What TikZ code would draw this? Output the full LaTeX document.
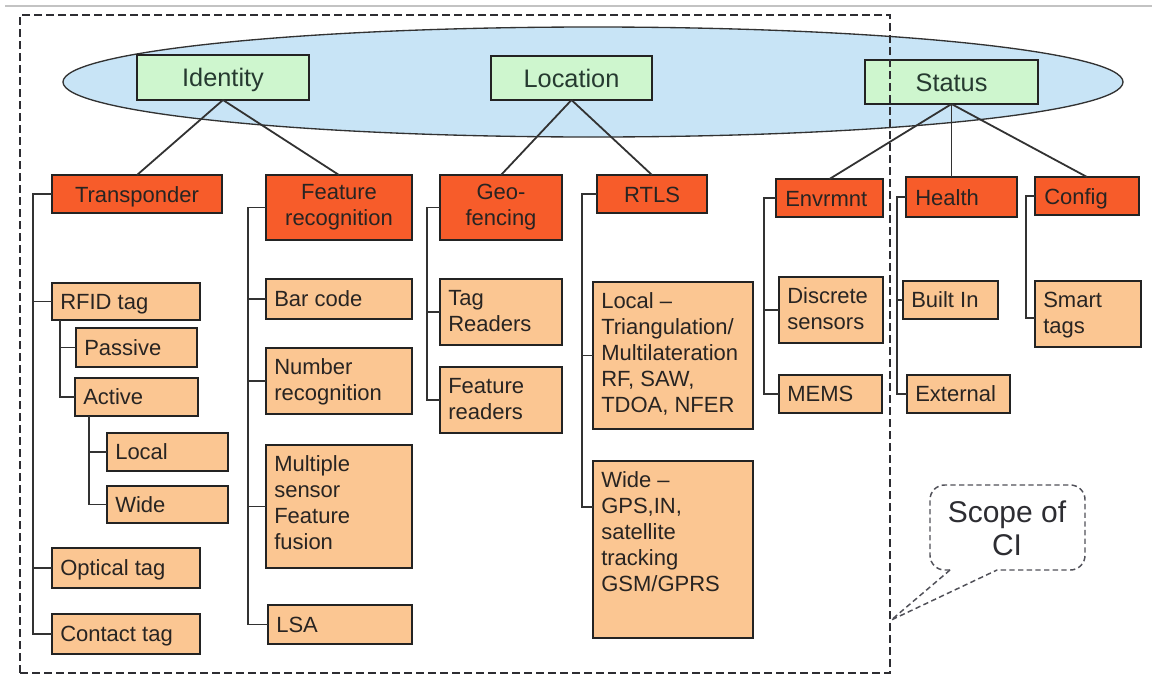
\documentclass[tikz,border=0pt]{standalone}
\usepackage{fontspec}
\setmainfont{Liberation Sans}
\usetikzlibrary{fit}

\definecolor{gfill}{RGB}{206,246,206}
\definecolor{rfill}{RGB}{247,92,42}
\definecolor{ofill}{RGB}{251,198,146}
\definecolor{efill}{RGB}{200,228,246}
\definecolor{boxline}{RGB}{35,35,35}
\definecolor{linkc}{RGB}{50,50,50}
\definecolor{txtc}{RGB}{40,36,34}
\definecolor{gtxtc}{RGB}{38,58,48}
\definecolor{scopec}{RGB}{45,45,50}
\definecolor{notec}{RGB}{80,80,88}

% a box from its top-left and bottom-right corners (pixel units)
\newcommand\mkbox[6]{%
  \path (#3,#4) coordinate (#2-nw) (#5,#6) coordinate (#2-se);
  \node[#1, fit=(#2-nw)(#2-se)] (#2) {};}
% single line, left aligned, vertically centred
\newcommand\txtSL[2]{\node[txt, anchor=base west] (#1-t) at ([shift={(8,7.5)}]#1.west) {#2};}
% several lines, left aligned, from the top
\newcommand\txtML[2]{\node[txt, anchor=north west] (#1-t) at ([shift={(8,7.8)}]#1.north west) {\strut #2};}
% single line, centred
\newcommand\txtC[2]{\node[txt, anchor=base] (#1-t) at ([shift={(0,8)}]#1.center) {#2};}
% several lines, centred, from the top
\newcommand\txtCM[2]{\node[txt, anchor=north, align=center] (#1-t) at ([shift={(0,6)}]#1.north) {\strut #2};}

\begin{document}
\begin{tikzpicture}[x=0.75pt,y=-0.75pt,
  box/.style={draw=boxline, line width=1.5pt, inner sep=0pt, outer sep=0pt},
  gbox/.style={box, fill=gfill},
  rbox/.style={box, fill=rfill},
  obox/.style={box, fill=ofill},
  link/.style={draw=linkc, line width=1.35pt},
  txt/.style={inner sep=0pt, text=txtc, font=\fontsize{16.5}{19.5}\selectfont, align=left},
  gtxt/.style={inner sep=0pt, text=gtxtc, font=\fontsize{19}{22}\selectfont},
  scopebox/.style={draw=scopec, line width=1.9pt, dash pattern=on 6pt off 3pt, inner sep=0pt},
  noteline/.style={draw=notec, line width=1.1pt, dash pattern=on 4pt off 2.5pt},
  notetxt/.style={text=scopec, align=center, inner sep=0pt, font=\fontsize{22.5}{25}\selectfont},
]
\useasboundingbox (0,0) rectangle (1152,682);

% thin rule along the top
\draw[line width=1.2pt, color={rgb,255:red,195;green,195;blue,195}] (5,6) -- (1152,6);

% band behind the three top categories
\draw[draw=linkc, line width=1pt, fill=efill] (593,82) ellipse [x radius=530, y radius=55];

% top categories
\mkbox{gbox}{identity}{137}{55}{309}{100}
\mkbox{gbox}{location}{491}{56}{652}{100}
\mkbox{gbox}{status}{865}{60}{1038}{104}
\node[gtxt, anchor=base] (identity-t) at ([shift={(0,9)}]identity.center) {Identity};
\node[gtxt, anchor=base] (location-t) at ([shift={(0,9)}]location.center) {Location};
\node[gtxt, anchor=base] (status-t) at ([shift={(0,9)}]status.center) {Status};

% second level
\mkbox{rbox}{trans}{52}{175}{222}{213}
\mkbox{rbox}{featrec}{266}{175}{412}{240}
\mkbox{rbox}{geo}{440}{175}{562}{240}
\mkbox{rbox}{rtls}{597}{175}{707}{213}
\mkbox{rbox}{env}{776}{179}{883}{217}
\mkbox{rbox}{health}{906}{177}{1017}{217}
\mkbox{rbox}{config}{1035}{177}{1139}{215}

% links from the top categories
\draw[link] (identity.south) -- (trans.north);
\draw[link] (identity.south) -- (featrec.north);
\draw[link] (location.south) -- (geo.north);
\draw[link] (location.south) -- (rtls.north);
\draw[link] (status.south) -- (env.north);
\draw[link] (status.south) -- (status.south |- health.north);
\draw[link] (status.south) -- (config.north);

% leaves
\mkbox{obox}{rfid}{52}{283}{200}{320}
\mkbox{obox}{passive}{76}{328}{197}{367}
\mkbox{obox}{active}{75}{378}{198}{416}
\mkbox{obox}{local}{107}{433}{228}{471}
\mkbox{obox}{wide}{107}{486}{228}{523}
\mkbox{obox}{optical}{52}{548}{200}{588}
\mkbox{obox}{contact}{52}{614}{200}{654}
\mkbox{obox}{barcode}{266}{279}{412}{319}
\mkbox{obox}{numrec}{266}{348}{412}{414}
\mkbox{obox}{fusion}{266}{445}{412}{568}
\mkbox{obox}{lsa}{268}{605}{412}{644}
\mkbox{obox}{tagrd}{440}{279}{562}{345}
\mkbox{obox}{featrd}{440}{367}{562}{433}
\mkbox{obox}{rtlsloc}{593}{282}{753}{429}
\mkbox{obox}{rtlswide}{593}{461}{753}{638}
\mkbox{obox}{discrete}{779}{277}{883}{343}
\mkbox{obox}{mems}{779}{375}{882}{413}
\mkbox{obox}{builtin}{903}{281}{998}{319}
\mkbox{obox}{external}{907}{375}{1010}{413}
\mkbox{obox}{smart}{1035}{281}{1141}{347}

% trunk positions of the trees
\coordinate (tx) at (33,0);
\coordinate (rx) at (60,0);
\coordinate (ax) at (89,0);
\coordinate (fx) at (248,0);
\coordinate (gx) at (427,0);
\coordinate (lx) at (582,0);
\coordinate (ex) at (764,0);
\coordinate (hx) at (897,0);
\coordinate (cx) at (1026,0);
\coordinate (wideport) at ([shift={(0,46)}]rtlswide.north west);
\coordinate (smartport) at ([shift={(0,37)}]smart.north west);

% trees
\draw[link] (trans.west) -- (trans.west -| tx) |- (contact.west);
\draw[link] (tx |- rfid.west) -- (rfid.west);
\draw[link] (tx |- optical.west) -- (optical.west);

\draw[link] (rx |- rfid.south) |- (active.west);
\draw[link] (rx |- passive.west) -- (passive.west);

\draw[link] (ax |- active.south) |- (wide.west);
\draw[link] (ax |- local.west) -- (local.west);

\draw[link] (featrec.west) -- (featrec.west -| fx) |- (lsa.west);
\draw[link] (fx |- barcode.west) -- (barcode.west);
\draw[link] (fx |- numrec.west) -- (numrec.west);
\draw[link] (fx |- fusion.west) -- (fusion.west);

\draw[link] (geo.west) -- (geo.west -| gx) |- (featrd.west);
\draw[link] (gx |- tagrd.west) -- (tagrd.west);

\draw[link] (rtls.west) -- (rtls.west -| lx) |- (wideport);
\draw[link] (lx |- rtlsloc.west) -- (rtlsloc.west);

\draw[link] (env.west) -- (env.west -| ex) |- (mems.west);
\draw[link] (ex |- discrete.west) -- (discrete.west);

\draw[link] (health.west) -- (health.west -| hx) |- (external.west);
\draw[link] (hx |- builtin.west) -- (builtin.west);

\draw[link] (config.west) -- (config.west -| cx) |- (smartport);

% labels of the second level
\txtC{trans}{Transponder}
\txtCM{featrec}{Feature\\recognition}
\txtCM{geo}{Geo-\\fencing}
\txtC{rtls}{RTLS}
\node[txt, anchor=base west] (env-t) at ([shift={(9,8)}]env.west) {Envrmnt};
\node[txt, anchor=base west] (health-t) at ([shift={(9,8)}]health.west) {Health};
\node[txt, anchor=base west] (config-t) at ([shift={(9,8)}]config.west) {Config};

% labels of the leaves
\txtSL{rfid}{RFID tag}
\txtSL{passive}{Passive}
\txtSL{active}{Active}
\txtSL{local}{Local}
\txtSL{wide}{Wide}
\txtSL{optical}{Optical tag}
\txtSL{contact}{Contact tag}
\txtSL{barcode}{Bar code}
\txtML{numrec}{Number\\recognition}
\txtML{fusion}{Multiple\\sensor\\Feature\\fusion}
\txtSL{lsa}{LSA}
\txtML{tagrd}{Tag\\Readers}
\txtML{featrd}{Feature\\readers}
\txtML{rtlsloc}{Local –\\Triangulation/\\Multilateration\\RF, SAW,\\TDOA, NFER}
\txtML{rtlswide}{Wide –\\GPS,IN,\\satellite\\tracking\\GSM/GPRS}
\txtML{discrete}{Discrete\\sensors}
\txtSL{mems}{MEMS}
\txtSL{builtin}{Built In}
\txtSL{external}{External}
\txtML{smart}{Smart\\tags}

% scope of CI: dashed frame and its callout
\path (20,15) coordinate (ci-nw) (890,673) coordinate (ci-se);
\node[scopebox, fit=(ci-nw)(ci-se)] (ci) {};
\coordinate (tipy) at (0,620);
\coordinate (tip) at (ci.east |- tipy);
\coordinate (wedge-l) at (950,570);
\coordinate (wedge-r) at (997,570);
\draw[noteline, rounded corners=11pt] (wedge-l) -- (930,570) -- (930,485) -- (1085,485) -- (1085,570) -- (wedge-r);
\draw[noteline] (wedge-l) -- (tip) -- (wedge-r);
\node[notetxt] (scope) at (1007,528) {Scope of\\CI};
\end{tikzpicture}
\end{document}
